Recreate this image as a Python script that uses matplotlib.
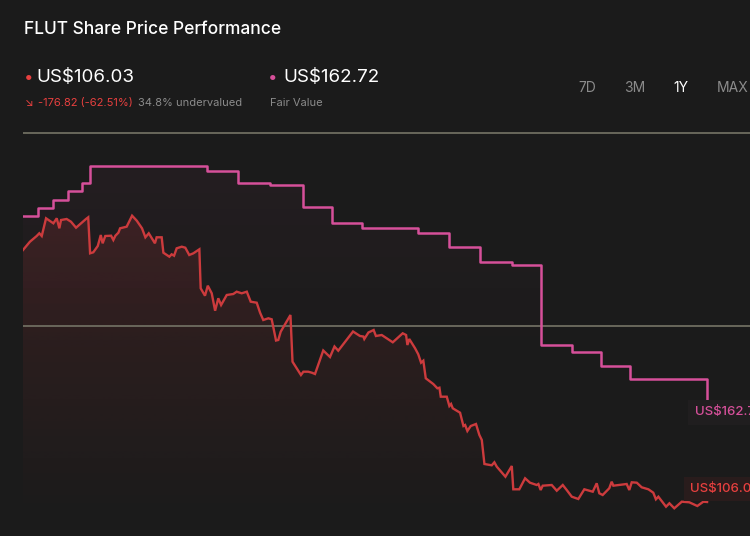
# -*- coding: utf-8 -*-
"""
FLUT share price performance (1Y) versus fair value, dark card style.
"""
import numpy as np
import matplotlib.pyplot as plt
from matplotlib.patches import Polygon
from matplotlib.colors import to_rgb

plt.rcParams['font.family'] = ['Inter', 'DejaVu Sans']

# -- Data (days since start of 1Y window, US$)
price_day = [0, 3.7, 7.3, 8.7, 10.0, 12.3, 16.2, 18.0, 19.4, 20.3, 23.3, 25.6, 28.3,
             33.6, 34.8, 35.8, 37.5, 39.9, 41.5, 42.5, 43.9, 47.0, 48.2, 49.3, 50.9,
             51.8, 55.3, 58.2, 60.7, 63.5, 65.3, 67.1, 70.4, 71.3, 74.0, 74.9, 78.1,
             79.3, 80.6, 82.0, 84.7, 86.6, 88.7, 90.9, 94.1, 94.8, 97.1, 98.6, 100.7,
             102.5, 104.2, 105.7, 108.7, 112.2, 114.0, 116.7, 119.4, 121.5, 124.7,
             126.5, 128.2, 130.9, 132.7, 135.0, 136.2, 137.5, 142.7, 143.8, 148.3,
             149.6, 152.2, 154.1, 155.8, 160.2, 163.8, 166.2, 168.2, 176.1, 179.8,
             181.6, 182.1, 184.3, 187.1, 188.3, 191.4, 194.1, 197.3, 202.6, 204.4,
             205.1, 206.1, 209.2, 210.9, 212.4, 213.6, 214.9, 218.9, 221.1, 222.2,
             222.9, 226.1, 227.5, 228.4, 229.3, 233.2, 235.0, 235.9, 237.1, 238.9,
             241.7, 243.5, 244.8, 246.2, 250.1, 251.5, 252.8, 257.4, 260.8, 261.6,
             264.8, 267.9, 270.5, 274.1, 275.0, 276.2, 277.3, 282.1, 284.8, 288.0,
             290.1, 292.8, 296.3, 299.5, 304.0, 306.1, 307.5, 309.3, 312.8, 314.1,
             315.0, 322.1, 323.5, 324.8, 327.5, 330.1, 333.7, 336.3, 337.7, 339.0,
             343.1, 344.9, 347.5, 351.5, 355.5, 359.8, 363.0, 365.0]
price_val = [282.85, 288.68, 292.68, 294.58, 292.68, 305.10, 301.59, 305.10, 298.09,
             303.91, 304.61, 302.72, 298.51, 304.61, 305.80, 280.54, 281.24, 285.67,
             293.38, 287.56, 292.68, 292.89, 289.88, 292.89, 295.00, 298.09, 299.21,
             306.93, 303.42, 298.09, 291.77, 294.58, 287.56, 291.77, 291.77, 280.96,
             278.16, 279.84, 278.86, 284.05, 285.18, 284.47, 279.35, 280.54, 283.35,
             255.98, 250.79, 257.81, 252.47, 240.26, 248.97, 244.26, 251.28, 251.98,
             253.60, 252.47, 253.60, 246.58, 245.88, 238.86, 233.74, 234.93, 234.23,
             219.35, 219.71, 225.53, 237.25, 204.48, 195.15, 197.46, 197.46, 196.76,
             195.85, 212.34, 207.78, 215.14, 212.20, 225.67, 222.51, 222.16, 220.41,
             224.97, 226.72, 222.51, 223.21, 220.90, 218.09, 224.41, 223.21, 216.20,
             220.41, 213.88, 209.67, 203.78, 205.18, 192.83, 188.83, 185.81, 186.23,
             179.92, 179.92, 173.39, 174.80, 171.78, 168.69, 159.36, 160.06, 155.85,
             159.36, 160.76, 153.04, 149.54, 132.69, 131.78, 133.89, 130.80, 123.78,
             131.29, 114.94, 114.94, 122.66, 119.57, 117.96, 118.66, 114.45, 117.47,
             117.96, 113.96, 117.96, 114.45, 109.75, 108.14, 114.94, 113.26, 119.15,
             112.13, 110.94, 115.64, 120.27, 117.47, 118.66, 114.45, 119.85, 119.57,
             116.34, 114.94, 112.56, 107.92, 109.75, 102.73, 105.12, 101.61, 106.24,
             105.82, 103.22, 106.24, 106.03]

fair_day = [0, 8.0, 16.0, 23.9, 31.3, 35.9, 98.2, 114.9, 131.8, 149.2, 165.0, 180.7,
            210.6, 227.2, 244.0, 260.8, 276.4, 293.1, 308.4, 323.9, 365.0]
fair_val = [306.72, 312.12, 317.94, 324.26, 330.08, 341.80, 338.29, 330.08, 328.47,
            312.82, 302.01, 298.51, 294.58, 285.18, 274.65, 272.54, 216.20, 211.07,
            201.46, 192.34, 162.72]

grid_vals = [229.5, 365.0]

last_price = 106.03
fair_value = 162.72
change_abs = -176.82
change_pct = -62.51
undervalued = 34.8
periods = ['7D', '3M', '1Y', 'MAX']
period_x = [587, 635, 681, 733]
active = '1Y'

# -- Style
bg = '#1b1b1b'
red = '#cc3b3d'
red_txt = '#e8403f'
pink = '#d6509a'
grey = '#8b8b8b'
grid_clr = '#6f6d60'
W, H = 750, 536


def px(x, y):
    return x / W, 1 - y / H


def gradient_fill(ax, verts, color, a_top, v_top, v_bot, x0, x1):
    # vertical alpha gradient clipped to polygon
    img = np.zeros((256, 1, 4))
    img[..., :3] = to_rgb(color)
    img[..., 3] = np.linspace(a_top, 0, 256).reshape(-1, 1)
    im = ax.imshow(img, aspect='auto', extent=[x0, x1, v_bot, v_top],
                   origin='upper', zorder=1, interpolation='bilinear')
    poly = Polygon(verts, closed=True, fc='none', ec='none',
                   transform=ax.transData)
    ax.add_patch(poly)
    im.set_clip_path(poly)


fig = plt.figure(figsize=(W / 100, H / 100), dpi=100, facecolor=bg)
ax = fig.add_axes([23 / W, 0, 727 / W, 416 / H])
ax.set_facecolor(bg)

# -- Fills
base = 82.17
p_verts = list(zip(price_day, price_val)) + [(price_day[-1], base), (price_day[0], base)]
gradient_fill(ax, p_verts, red, 0.16, max(price_val), 95, 0, 365)

f_verts = []
for i in range(len(fair_day) - 1):
    f_verts.append((fair_day[i], fair_val[i]))
    f_verts.append((fair_day[i + 1], fair_val[i]))
f_verts += [(fair_day[-1], fair_val[-1]), (fair_day[-1], base), (fair_day[0], base)]
gradient_fill(ax, f_verts, pink, 0.05, max(fair_val), 200, 0, 365)

# -- Gridlines
for g in grid_vals:
    ax.axhline(g, color=grid_clr, lw=1.3, zorder=2)

# -- Lines
ax.step(fair_day, fair_val, where='post', color=pink, lw=1.8, zorder=3)
ax.plot(price_day, price_val, color=red, lw=1.7, zorder=4, solid_joinstyle='miter')

# -- End labels (cut by the right edge, as in the card)
ax.annotate(f'US${fair_value:.2f}', xy=(fair_day[-1], fair_value),
            xytext=(-12, 9), textcoords='offset pixels', color=pink,
            fontsize=9.5, fontweight='medium', va='center', ha='left', zorder=6,
            annotation_clip=False,
            bbox=dict(boxstyle='square,pad=0.5', fc='#201e1f', ec='none'))
ax.annotate(f'US${last_price:.2f}', xy=(price_day[-1], last_price),
            xytext=(-17, 13), textcoords='offset pixels', color=red_txt,
            fontsize=9.5, fontweight='medium', va='center', ha='left', zorder=6,
            annotation_clip=False,
            bbox=dict(boxstyle='square,pad=0.45', fc='#291c1c', ec='none'))

ax.set_xlim(0, 387.9)
ax.set_ylim(base, 374.08)
ax.set_xticks([])
ax.set_yticks([])
for s in ax.spines.values():
    s.set_visible(False)

# -- Header
fig.text(*px(24, 29), 'FLUT Share Price Performance', color='white',
         fontsize=12.5, fontweight='medium', va='center', ha='left')
fig.text(*px(24, 77), '•', color=red_txt, fontsize=12, va='center', ha='left')
fig.text(*px(36, 78), f'US${last_price:.2f}', color='white',
         fontsize=13.5, va='center', ha='left')
fig.text(*px(25, 103), '↘', color=red_txt, fontsize=8, va='center', ha='left')
fig.text(*px(38, 103), f'{change_abs:.2f} ({change_pct:.2f}%)', color=red_txt,
         fontsize=8, va='center', ha='left')
fig.text(*px(138, 103), f'{undervalued}% undervalued', color=grey,
         fontsize=8, va='center', ha='left')
fig.text(*px(268, 77), '•', color=pink, fontsize=12, va='center', ha='left')
fig.text(*px(283, 78), f'US${fair_value:.2f}', color='white',
         fontsize=13.5, va='center', ha='left')
fig.text(*px(270, 103), 'Fair Value', color=grey, fontsize=8,
         va='center', ha='left')

for lab, x in zip(periods, period_x):
    fig.text(*px(x, 88), lab, color='white' if lab == active else grey,
             fontsize=10, va='center', ha='center')

plt.savefig('out.png', dpi=100, facecolor=bg)
